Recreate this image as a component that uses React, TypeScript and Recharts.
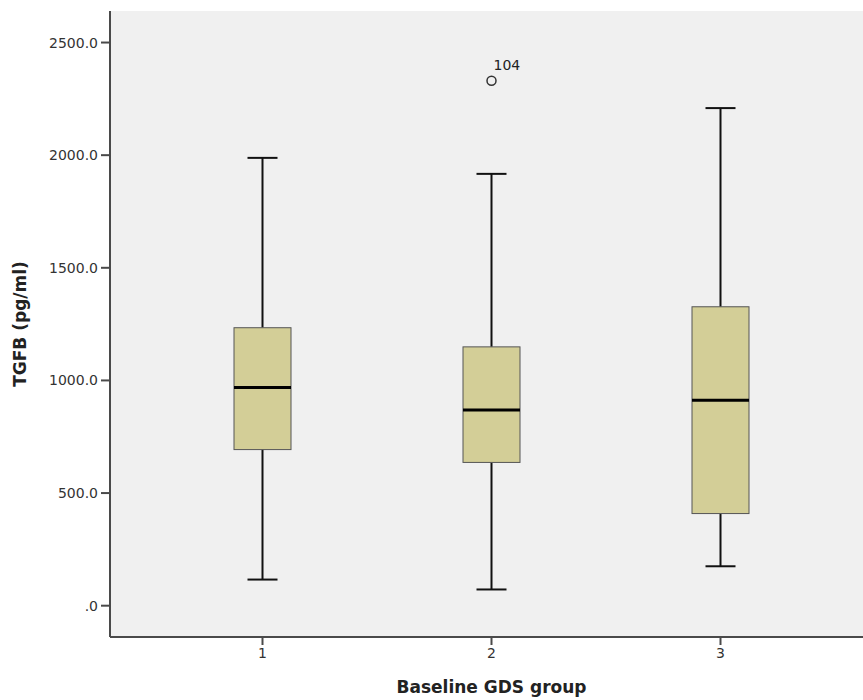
import React from 'react';
import { ComposedChart, Bar, Scatter, XAxis, YAxis, CartesianGrid } from 'recharts';

const groups = ['1', '2', '3'];
const whiskerLow = [116, 72, 175];
const q1 = [693, 636, 409];
const median = [969, 869, 912];
const q3 = [1234, 1149, 1327];
const whiskerHigh = [1988, 1917, 2209];
const outliers: (number | null)[] = [null, 2330, null];
const outlierLabels: (string | null)[] = [null, '104', null];
const yTicks = [0, 500, 1000, 1500, 2000, 2500];
const yDomain = [-139, 2640];

const data = groups.map((g, i) => ({
  group: g,
  range: [whiskerLow[i], whiskerHigh[i]],
  low: whiskerLow[i],
  q1: q1[i],
  median: median[i],
  q3: q3[i],
  high: whiskerHigh[i],
  outlier: outliers[i],
  outlierLabel: outlierLabels[i],
}));

const FONT = '"DejaVu Sans", sans-serif';

const BoxShape = (props: any) => {
  const { x, y, width, height, payload } = props;
  if (payload == null || x == null) return <g />;
  const yTop = Math.min(y, y + height);
  const yBot = Math.max(y, y + height);
  const { low, high } = payload;
  const pix = (v: number) => yBot - ((v - low) / (high - low)) * (yBot - yTop);
  const cx = x + width / 2;
  const capHalf = 15;
  const pQ1 = pix(payload.q1);
  const pQ3 = pix(payload.q3);
  const pMed = pix(payload.median);
  return (
    <g>
      <line x1={cx} x2={cx} y1={pix(high)} y2={pQ3} stroke="#111" strokeWidth={2} />
      <line x1={cx} x2={cx} y1={pQ1} y2={pix(low)} stroke="#111" strokeWidth={2} />
      <line x1={cx - capHalf} x2={cx + capHalf} y1={pix(high)} y2={pix(high)} stroke="#111" strokeWidth={2} />
      <line x1={cx - capHalf} x2={cx + capHalf} y1={pix(low)} y2={pix(low)} stroke="#111" strokeWidth={2} />
      <rect x={x} y={pQ3} width={width} height={pQ1 - pQ3} fill="#d3ce97" stroke="#555" strokeWidth={1} />
      <line x1={x} x2={x + width} y1={pMed} y2={pMed} stroke="#000" strokeWidth={3} />
    </g>
  );
};

const OutlierShape = (props: any) => {
  const { cx, cy, payload } = props;
  if (!payload || payload.outlier == null || cx == null || cy == null || isNaN(cy)) return <g />;
  return (
    <g>
      <circle cx={cx} cy={cy} r={4.5} fill="none" stroke="#333" strokeWidth={1.5} />
      <text x={cx + 2} y={cy - 11} fontSize={14} fontFamily={FONT} fill="#222">
        {payload.outlierLabel}
      </text>
    </g>
  );
};

const fmt = (v: number) => (v === 0 ? '.0' : v.toFixed(1));

export default function App() {
  return (
    <div style={{ width: 863, height: 700, overflow: 'hidden' }}>
      <style>{`html,body{margin:0;padding:0;overflow:hidden;}`}</style>
      <ComposedChart
        width={873}
        height={700}
        data={data}
        margin={{ top: 11, right: 0, left: 10, bottom: 3 }}
      >
        <CartesianGrid fill="#f0f0f0" horizontal={false} vertical={false} stroke="none" />
        <XAxis
          xAxisId="top"
          orientation="top"
          dataKey="group"
          height={0}
          tick={false}
          tickLine={false}
          padding={{ left: 38, right: 38 }}
          axisLine={{ stroke: '#8c8c8c', strokeWidth: 2 }}
        />
        <XAxis
          dataKey="group"
          height={60}
          padding={{ left: 38, right: 38 }}
          axisLine={{ stroke: '#4a4a4a', strokeWidth: 2 }}
          tickLine={{ stroke: '#4a4a4a', strokeWidth: 2 }}
          tickSize={8}
          tickMargin={3}
          tick={{ fill: '#333', fontSize: 14, fontFamily: FONT }}
          label={{
            content: (p: any) => {
              const vb = p.viewBox || {};
              return (
                <text
                  x={vb.x + vb.width / 2}
                  y={vb.y + 56}
                  textAnchor="middle"
                  fontSize={17}
                  fontWeight="bold"
                  fontFamily={FONT}
                  fill="#222"
                >
                  Baseline GDS group
                </text>
              );
            },
          }}
        />
        <YAxis
          width={100}
          domain={yDomain}
          ticks={yTicks}
          type="number"
          tickFormatter={fmt}
          axisLine={{ stroke: '#4a4a4a', strokeWidth: 2 }}
          tickLine={{ stroke: '#4a4a4a', strokeWidth: 2 }}
          tickSize={9}
          tickMargin={3}
          tick={{ fill: '#333', fontSize: 14, fontFamily: FONT }}
          label={{
            content: (p: any) => {
              const vb = p.viewBox || {};
              const cx = vb.x + 10;
              const cy = vb.y + vb.height / 2;
              return (
                <text
                  x={cx}
                  y={cy}
                  transform={`rotate(-90 ${cx} ${cy})`}
                  textAnchor="middle"
                  dominantBaseline="central"
                  fontSize={17}
                  fontWeight="bold"
                  fontFamily={FONT}
                  fill="#222"
                >
                  TGFB (pg/ml)
                </text>
              );
            },
          }}
        />
        <Bar dataKey="range" barSize={57} shape={<BoxShape />} isAnimationActive={false} />
        <Scatter dataKey="outlier" shape={<OutlierShape />} isAnimationActive={false} />
      </ComposedChart>
    </div>
  );
}
